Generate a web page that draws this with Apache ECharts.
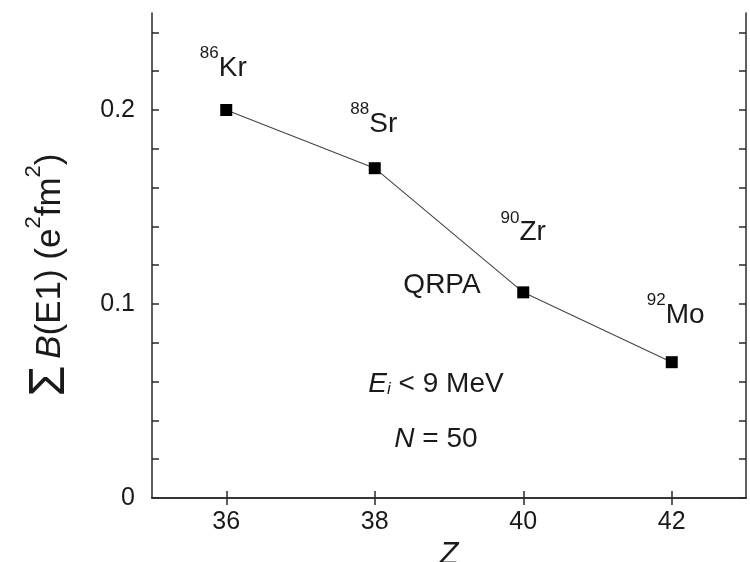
<!DOCTYPE html>
<html>
<head>
<meta charset="utf-8">
<script src="https://cdn.jsdelivr.net/npm/echarts@6/dist/echarts.min.js"></script>
<style>
  html, body { margin: 0; padding: 0; background: #fff; }
  #chart { width: 750px; height: 562px; }
</style>
</head>
<body>
<div id="chart"></div>
<script>
// Proton number Z of the N = 50 isotones
const protonNumbers = [36, 38, 40, 42];
// Summed E1 strength below 9 MeV (e^2 fm^2), QRPA
const sumBE1 = [0.200, 0.170, 0.106, 0.070];
// Nucleus labels: mass number and element symbol
const massNumbers = ['86', '88', '90', '92'];
const elements = ['Kr', 'Sr', 'Zr', 'Mo'];
// Axis ticks and labels
const xTickValues = [36, 38, 40, 42];
const yTickValues = [0, 0.02, 0.04, 0.06, 0.08, 0.10, 0.12, 0.14, 0.16, 0.18, 0.20, 0.22, 0.24];
const yLabelValues = [0, 0.1, 0.2];

const FONT = 'Liberation Sans, Arial, sans-serif';
const AXIS_COLOR = '#2a2a2a';
const TEXT_COLOR = '#1a1a1a';

// per-label offsets (px) from the marker to the label centre
const labelOffsets = [[-3, -42], [-1, -44], [0, -60], [4, -47]];

const chart = echarts.init(document.getElementById('chart'), null, { renderer: 'canvas' });

const axisLine = { show: true, lineStyle: { color: AXIS_COLOR, width: 1.5 } };
const innerTick = (vals) => ({
  show: true, inside: true, length: 7,
  customValues: vals,
  lineStyle: { color: AXIS_COLOR, width: 1.5 }
});

// superscript mass number sits at the top of a tall line box
const richLabel = {
  sup: { fontSize: 17, fontFamily: FONT, color: TEXT_COLOR, verticalAlign: 'top', lineHeight: 18 },
  el: { fontSize: 28, fontFamily: FONT, color: TEXT_COLOR, lineHeight: 46 }
};

chart.setOption({
  animation: false,
  backgroundColor: '#fff',
  grid: { left: 152, top: 13, right: 4, bottom: 64, containLabel: false, outerBoundsMode: 'none' },
  xAxis: [
    {
      type: 'value', min: 35, max: 43, position: 'bottom',
      axisLine, axisTick: innerTick(xTickValues),
      splitLine: { show: false },
      axisLabel: {
        customValues: xTickValues, margin: 12,
        fontSize: 25, fontFamily: FONT, color: TEXT_COLOR
      },
      name: 'Z', nameLocation: 'middle', nameGap: 49,
      nameTextStyle: {
        fontSize: 31, fontStyle: 'italic', fontFamily: FONT, color: TEXT_COLOR,
        verticalAlign: 'middle', lineHeight: 31
      }
    },
    {
      type: 'value', min: 35, max: 43, position: 'top',
      axisLine, axisTick: innerTick(xTickValues),
      axisLabel: { show: false }, splitLine: { show: false }
    }
  ],
  yAxis: [
    {
      type: 'value', min: 0, max: 0.25, position: 'left',
      axisLine, axisTick: innerTick(yTickValues),
      splitLine: { show: false },
      axisLabel: {
        customValues: yLabelValues, margin: 17,
        fontSize: 25, fontFamily: FONT, color: TEXT_COLOR,
        formatter: (v) => (v === 0 ? '0' : String(Math.round(v * 10) / 10))
      }
    },
    {
      type: 'value', min: 0, max: 0.25, position: 'right',
      axisLine, axisTick: innerTick(yTickValues),
      axisLabel: { show: false }, splitLine: { show: false }
    }
  ],
  series: [
    {
      type: 'line',
      data: protonNumbers.map((z, i) => ({
        value: [z, sumBE1[i]],
        label: {
          show: true, position: 'inside', offset: labelOffsets[i],
          formatter: '{sup|' + massNumbers[i] + '}{el|' + elements[i] + '}',
          rich: richLabel
        }
      })),
      symbol: 'rect', symbolSize: 12,
      itemStyle: { color: '#000' },
      lineStyle: { color: '#444', width: 1.1 },
      z: 3
    }
  ],
  graphic: [
    {
      type: 'text', x: 50, y: 275, rotation: Math.PI / 2,
      style: {
        text: '{s|Σ}  {i|B}{n|(E1) (e}{p|2}{n|fm}{p|2}{n|)}',
        align: 'center', verticalAlign: 'middle',
        rich: {
          s: { fontSize: 50, fontFamily: FONT, fill: TEXT_COLOR, lineHeight: 54 },
          i: { fontSize: 35, fontStyle: 'italic', fontFamily: FONT, fill: TEXT_COLOR },
          n: { fontSize: 35, fontFamily: FONT, fill: TEXT_COLOR },
          p: { fontSize: 22, fontFamily: FONT, fill: TEXT_COLOR, verticalAlign: 'top' }
        }
      }
    },
    {
      type: 'text', x: 442, y: 285,
      style: { text: 'QRPA', align: 'center', verticalAlign: 'middle', fontSize: 28, fontFamily: FONT, fill: TEXT_COLOR }
    },
    {
      type: 'text', x: 436, y: 384,
      style: {
        text: '{i|E}{sub|i}{n| < 9 MeV}',
        align: 'center', verticalAlign: 'middle',
        rich: {
          i: { fontSize: 28, fontStyle: 'italic', fontFamily: FONT, fill: TEXT_COLOR },
          sub: { fontSize: 17, fontStyle: 'italic', fontFamily: FONT, fill: TEXT_COLOR, verticalAlign: 'bottom' },
          n: { fontSize: 28, fontFamily: FONT, fill: TEXT_COLOR }
        }
      }
    },
    {
      type: 'text', x: 436, y: 439,
      style: {
        text: '{i|N}{n| = 50}',
        align: 'center', verticalAlign: 'middle',
        rich: {
          i: { fontSize: 28, fontStyle: 'italic', fontFamily: FONT, fill: TEXT_COLOR },
          n: { fontSize: 28, fontFamily: FONT, fill: TEXT_COLOR }
        }
      }
    }
  ]
});
</script>
</body>
</html>
